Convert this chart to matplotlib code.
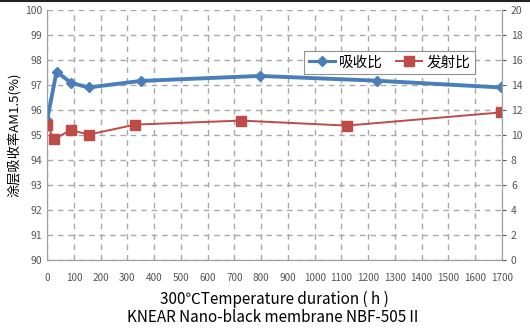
import matplotlib.pyplot as plt
from matplotlib.lines import Line2D

plt.rcParams['font.family'] = ['Noto Sans CJK SC', 'DejaVu Sans']

# data
hours_abs = [0, 35, 90, 155, 350, 795, 1232, 1695]
absorb = [95.6, 97.53, 97.08, 96.9, 97.16, 97.36, 97.17, 96.9]
hours_emi = [0, 25, 88, 155, 330, 725, 1120, 1695]
emit = [10.8, 9.65, 10.4, 10.03, 10.83, 11.15, 10.75, 11.8]

blue = '#4a7ebb'
red = '#be4b48'

fig = plt.figure(figsize=(5.3, 3.3), dpi=100)
ax = fig.add_axes([0.089, 0.212, 0.858, 0.758])
ax2 = ax.twinx()

ax.plot(hours_abs, absorb, color=blue, lw=2.8, marker='D', ms=5.5, label='吸收比')
ax2.plot(hours_emi, emit, color=red, lw=1.4, marker='s', ms=7, label='发射比')

ax.set_xlim(0, 1700)
ax.set_ylim(90, 100)
ax2.set_ylim(0, 20)
ax.set_xticks(range(0, 1800, 100))
ax.set_yticks(range(90, 101))
ax2.set_yticks(range(0, 21, 2))

ax.grid(True, color='#a8a8a8', ls=(0, (4, 3.5)), lw=1.0)
for a in (ax, ax2):
    a.spines['top'].set_visible(False)
    for s in ('left', 'right', 'bottom'):
        a.spines[s].set_color('#a0a0a0')
    a.tick_params(colors='#555555', labelsize=7.5, length=3, width=0.8)
ax.tick_params(axis='x', length=0, pad=9, labelsize=7.2)
ax.tick_params(axis='y', length=0)

ax.set_ylabel('涂层吸收率AM1.5(%)', fontsize=9.5, labelpad=3)
ax.set_xlabel('300℃Temperature duration ( h )\nKNEAR Nano-black membrane NBF-505Ⅱ',
              fontsize=11, linespacing=1.05, labelpad=6)

handles = [Line2D([], [], color=blue, lw=2.2, marker='D', ms=5.5),
           Line2D([], [], color=red, lw=1.4, marker='s', ms=7)]
leg = ax2.legend(handles, ['吸收比', '发射比'], loc='upper right',
                 bbox_to_anchor=(0.957, 0.865), ncol=2, fontsize=10.5,
                 fancybox=False, framealpha=1, edgecolor='#909090',
                 handlelength=1.8, handletextpad=0.3, columnspacing=0.9,
                 borderpad=0.3)
leg.get_frame().set_linewidth(0.8)

fig.add_artist(Line2D([0, 1], [0.997, 0.997], color='#222222', lw=1.5,
                      transform=fig.transFigure))

fig.savefig('out.png', dpi=100)
